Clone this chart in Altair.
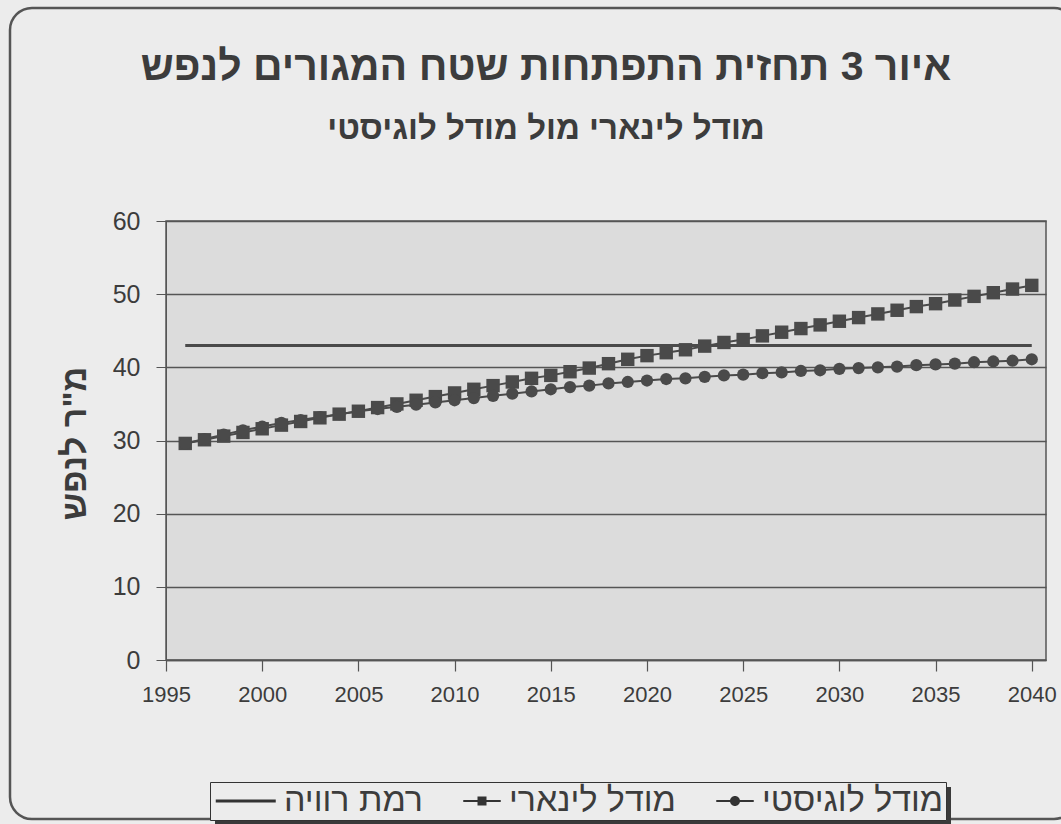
import altair as alt
import pandas as pd

# ---- data ----
years = list(range(1996, 2041))
linear = [29.6, 30.1, 30.6, 31.1, 31.6, 32.1, 32.6, 33.1, 33.6, 34.0,
          34.5, 35.0, 35.5, 36.0, 36.5, 37.0, 37.5, 38.0, 38.5, 38.9,
          39.4, 39.9, 40.5, 41.1, 41.6, 42.0, 42.4, 42.9, 43.4, 43.8,
          44.3, 44.8, 45.3, 45.8, 46.3, 46.8, 47.3, 47.8, 48.3, 48.7,
          49.2, 49.7, 50.2, 50.7, 51.2]
logistic = [29.6, 30.2, 30.8, 31.4, 31.9, 32.4, 32.8, 33.2, 33.6, 34.0,
            34.3, 34.6, 34.9, 35.2, 35.5, 35.8, 36.1, 36.4, 36.7, 37.0,
            37.3, 37.5, 37.8, 38.0, 38.2, 38.4, 38.5, 38.7, 38.9, 39.0,
            39.2, 39.3, 39.5, 39.6, 39.8, 39.9, 40.0, 40.1, 40.3, 40.4,
            40.5, 40.7, 40.8, 40.9, 41.1]
saturation_years = [1996, 2040]
saturation = [43, 43]

x_ticks = [1995, 2000, 2005, 2010, 2015, 2020, 2025, 2030, 2035, 2040]
y_ticks = [0, 10, 20, 30, 40, 50, 60]

SAT = "רמת רוויה"
LIN = "מודל לינארי"
LOG = "מודל לוגיסטי"
series_order = [SAT, LIN, LOG]

title_text = "איור 3 תחזית התפתחות שטח המגורים לנפש"
subtitle_text = "מודל לינארי מול מודל לוגיסטי"
y_title = "מ\"ר לנפש"

rows = []
for yr, v in zip(years, linear):
    rows.append({"year": yr, "value": v, "series": LIN})
for yr, v in zip(years, logistic):
    rows.append({"year": yr, "value": v, "series": LOG})
for yr, v in zip(saturation_years, saturation):
    rows.append({"year": yr, "value": v, "series": SAT})
df = pd.DataFrame(rows)

FONT = "Liberation Sans"
INK = "#3c3c3c"
MARK = "#4a4a4a"

x_enc = alt.X("year:Q",
              scale=alt.Scale(domain=[1995, 2040.74], nice=False, zero=False),
              axis=alt.Axis(values=x_ticks, format="d", title=None, grid=False,
                            tickSize=11, labelPadding=13, labelFontSize=22,
                            labelFlush=False, labelOverlap=False,
                            labelFont=FONT, labelColor=INK, domainColor="#555",
                            tickColor="#555", domainWidth=1.5, tickWidth=1.2))
y_enc = alt.Y("value:Q",
              scale=alt.Scale(domain=[0, 60], nice=False),
              axis=alt.Axis(values=y_ticks, title=y_title, grid=True,
                            gridColor="#555", gridWidth=1.4,
                            tickSize=10, labelPadding=16, labelFontSize=25,
                            labelFlush=False, labelOverlap=False,
                            labelFont=FONT, labelColor=INK, domainColor="#555",
                            tickColor="#555", titleFont=FONT, titleFontSize=34,
                            titleFontWeight="bold", titleColor=INK,
                            titleX=-91, titleY=222, titleAngle=270,
                            titleAlign="center", titleBaseline="middle"))

base = alt.Chart(df)

sat_line = base.transform_filter(alt.datum.series == SAT).mark_line(
    color=MARK, strokeWidth=3).encode(x=x_enc, y=y_enc)
model_lines = base.transform_filter(alt.datum.series != SAT).mark_line(
    color=MARK, strokeWidth=2).encode(x=x_enc, y=y_enc, detail="series:N")

squares = base.transform_filter(alt.datum.series == LIN).mark_point(
    filled=True, shape="square", size=180, color=MARK, opacity=1).encode(x=x_enc, y=y_enc)
circles = base.transform_filter(alt.datum.series == LOG).mark_point(
    filled=True, shape="circle", size=150, color=MARK, opacity=1).encode(x=x_enc, y=y_enc)

# legend symbols drawn as filled shapes: a thin bar with the series marker on it
# (unit = 12.5 px at symbol size 625)
path_sat = "M-3.3,-0.12H1.5V0.12H-3.3Z"
path_lin = "M-1.5,-0.08H1.5V0.08H-1.5ZM-0.36,-0.36H0.36V0.36H-0.36Z"
path_log = "M-1.5,-0.08H1.5V0.08H-1.5ZM0.4,0A0.4,0.4 0 1,1 -0.4,0A0.4,0.4 0 1,1 0.4,0Z"

LEG_X, LEG_Y = 44, 561

# legend carrier: real rows, drawn with size 0 so only the legend shows
legend_layer = base.mark_point(
    filled=True, color="#333", size=0).encode(
    x=x_enc, y=y_enc,
    shape=alt.Shape("series:N",
                    scale=alt.Scale(domain=series_order, range=[path_sat, path_lin, path_log]),
                    legend=alt.Legend(title=None, orient="none", legendX=LEG_X, legendY=LEG_Y,
                                      direction="horizontal", labelFont=FONT,
                                      labelFontSize=34, labelColor=INK, labelLimit=400,
                                      symbolSize=625, symbolFillColor="#333",
                                      symbolOpacity=1, symbolOffset=28,
                                      columnPadding=14, labelOffset=10,
                                      padding=2, strokeColor="#333",
                                      fillColor="#ececec")))

# drop shadow behind the legend box
shadow = alt.Chart(pd.DataFrame({"k": [0]})).mark_rect(fill="#3a3a3a").encode(
    x=alt.value(LEG_X + 5), x2=alt.value(LEG_X + 741),
    y=alt.value(LEG_Y + 5), y2=alt.value(LEG_Y + 46))

frame = alt.Chart(pd.DataFrame({"k": [0]})).mark_rect(
    fillOpacity=0, stroke="#555", strokeWidth=2.5, cornerRadius=22).encode(
    x=alt.value(-156), x2=alt.value(910), y=alt.value(-213), y2=alt.value(598))

chart = alt.layer(frame, sat_line, model_lines, squares, circles, shadow,
                  legend_layer).properties(
    width=880, height=439,
    title=alt.Title(title_text, subtitle=subtitle_text, anchor="middle", frame="group",
                    dx=-60, font=FONT, fontSize=41, fontWeight="bold", color=INK,
                    subtitleFont=FONT, subtitleFontSize=33, subtitleFontWeight="bold",
                    subtitleColor=INK, subtitlePadding=24, offset=-140),
    autosize=alt.AutoSizeParams(type="none"),
    padding={"left": 166, "top": 221, "right": 15, "bottom": 164},
    background="#ececec",
).configure_view(fill="#dcdcdc", stroke="#555", strokeWidth=1.5)

chart.save("out.html", embed_options={"renderer": "svg", "actions": False})
